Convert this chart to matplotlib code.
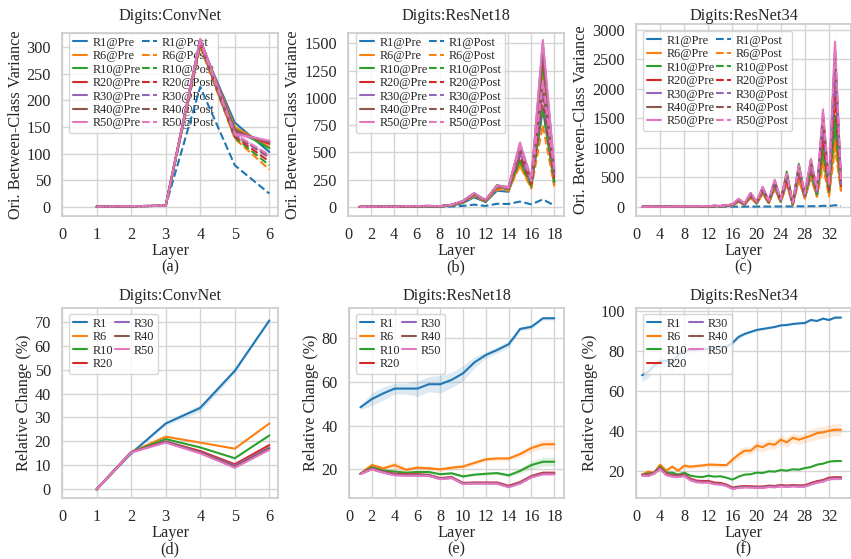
import numpy as np
import matplotlib
matplotlib.use('Agg')
import matplotlib.pyplot as plt
import seaborn as sns
from matplotlib.ticker import MultipleLocator

sns.set_theme(style='whitegrid')
plt.rcParams['font.family'] = ['Liberation Serif', 'DejaVu Serif']

runs = ['R1', 'R6', 'R10', 'R20', 'R30', 'R40', 'R50']
colors = ['#1f77b4', '#ff7f0e', '#2ca02c', '#d62728', '#9467bd', '#8c564b', '#e377c2']

# ---------- (a) ConvNet, original between-class variance ----------
conv_layers = [1, 2, 3, 4, 5, 6]
conv_pre_r1 = [0.5, 1.5, 2, 308, 158, 103]
conv_pre_r6 = [0.5, 1.5, 2, 310, 150, 112]
conv_pre_r10 = [0.5, 1.5, 2, 311, 146, 110]
conv_pre_r20 = [0.5, 1.5, 2, 312, 143, 118]
conv_pre_r30 = [0.5, 1.5, 2, 313, 141, 121]
conv_pre_r40 = [0.5, 1.5, 2, 314, 139, 122]
conv_pre_r50 = [0.5, 1.5, 2, 315, 137, 124]
conv_post_r1 = [0.5, 1.5, 2, 225, 78, 25]
conv_post_r6 = [0.5, 1.5, 2, 300, 128, 70]
conv_post_r10 = [0.5, 1.5, 2, 303, 130, 78]
conv_post_r20 = [0.5, 1.5, 2, 305, 132, 85]
conv_post_r30 = [0.5, 1.5, 2, 307, 135, 92]
conv_post_r40 = [0.5, 1.5, 2, 308, 134, 95]
conv_post_r50 = [0.5, 1.5, 2, 309, 136, 97]
conv_spread = [0.3, 0.5, 0.5, 6, 4, 3]

# ---------- (b) ResNet18, original between-class variance ----------
r18_layers = list(range(1, 19))
r18_pre_r1 = [1, 2, 3, 2, 4, 5, 6, 5, 12, 35, 90, 45, 150, 140, 420, 200, 900, 230]
r18_pre_r6 = [1, 2, 4, 3, 6, 6, 8, 6, 15, 45, 110, 55, 175, 165, 390, 180, 1250, 200]
r18_pre_r10 = [1, 2, 4, 3, 6, 7, 8, 7, 16, 48, 115, 58, 200, 180, 430, 200, 1320, 230]
r18_pre_r20 = [1, 3, 5, 3, 7, 7, 9, 7, 18, 50, 120, 60, 190, 175, 500, 230, 1400, 300]
r18_pre_r30 = [1, 3, 5, 3, 7, 8, 10, 8, 19, 52, 122, 62, 192, 178, 540, 240, 1450, 330]
r18_pre_r40 = [1, 3, 5, 3, 8, 8, 10, 8, 20, 53, 125, 63, 195, 180, 570, 250, 1490, 350]
r18_pre_r50 = [1, 3, 5, 4, 8, 8, 11, 8, 20, 55, 128, 65, 198, 182, 590, 260, 1530, 370]
r18_post_r1 = [0.5, 1, 1, 1, 2, 2, 3, 3, 5, 10, 22, 10, 30, 28, 50, 25, 70, 15]
r18_post_r6 = [1, 2, 3, 2, 5, 5, 7, 5, 13, 40, 100, 50, 160, 150, 380, 170, 750, 190]
r18_post_r10 = [1, 2, 4, 3, 6, 6, 8, 6, 15, 45, 110, 55, 180, 165, 420, 190, 900, 220]
r18_post_r20 = [1, 2, 4, 3, 6, 7, 9, 7, 17, 48, 115, 58, 185, 170, 470, 210, 1000, 260]
r18_post_r30 = [1, 3, 5, 3, 7, 7, 9, 7, 18, 50, 118, 60, 188, 172, 500, 220, 1050, 290]
r18_post_r40 = [1, 3, 5, 3, 7, 8, 10, 8, 19, 52, 120, 61, 190, 175, 530, 235, 1100, 320]
r18_post_r50 = [1, 3, 5, 3, 7, 8, 10, 8, 19, 53, 122, 62, 192, 177, 550, 240, 1150, 340]
r18_spread = [0.5, 1, 1, 1, 1, 1, 2, 1, 3, 5, 10, 6, 12, 12, 30, 20, 40, 25]

# ---------- (c) ResNet34, original between-class variance ----------
r34_layers = list(range(1, 35))
r34_pre_r1 = [1, 2, 3, 2, 4, 4, 6, 5, 8, 6, 9, 7, 12, 10, 16, 28, 90, 38, 165, 58, 230, 70, 320, 88,
              400, 38, 480, 150, 520, 190, 880, 220, 1300, 330]
r34_pre_r6 = [1, 2, 3, 2, 4, 4, 7, 5, 8, 7, 10, 8, 14, 11, 18, 30, 95, 40, 170, 60, 240, 75, 330, 90,
              420, 40, 520, 160, 560, 200, 850, 230, 1150, 300]
r34_pre_r10 = [2, 2, 3, 3, 5, 4, 8, 6, 10, 8, 12, 10, 16, 13, 22, 35, 110, 45, 195, 70, 280, 88, 380, 105,
               600, 50, 730, 180, 640, 230, 1000, 280, 1550, 340]
r34_pre_r20 = [2, 2, 4, 3, 5, 4, 8, 6, 10, 8, 12, 10, 17, 14, 24, 38, 115, 48, 200, 75, 285, 90, 385, 110,
               480, 55, 600, 190, 680, 250, 1250, 300, 2100, 360]
r34_pre_r30 = [2, 3, 4, 3, 5, 5, 9, 7, 11, 9, 13, 11, 19, 15, 26, 40, 125, 50, 215, 80, 305, 95, 410, 115,
               510, 60, 640, 200, 730, 265, 1450, 330, 2450, 380]
r34_pre_r40 = [2, 3, 4, 3, 6, 5, 9, 7, 11, 9, 14, 11, 20, 16, 28, 42, 130, 55, 225, 85, 320, 100, 430, 120,
               540, 65, 670, 215, 770, 280, 1550, 350, 2650, 400]
r34_pre_r50 = [2, 3, 4, 3, 6, 5, 10, 8, 12, 10, 15, 12, 22, 18, 30, 45, 140, 60, 240, 90, 340, 110, 460, 130,
               570, 70, 710, 230, 810, 300, 1650, 380, 2800, 420]
r34_post_r1 = [1, 1, 1, 1, 2, 2, 2, 2, 3, 3, 3, 3, 4, 4, 5, 5, 6, 5, 7, 6, 8, 7, 9, 8,
               10, 8, 12, 10, 14, 12, 20, 15, 30, 18]
r34_post_r6 = [1, 2, 3, 2, 4, 3, 6, 4, 7, 6, 9, 7, 12, 10, 16, 26, 85, 35, 150, 55, 220, 65, 300, 80,
               380, 35, 460, 140, 500, 170, 700, 180, 1000, 260]
r34_post_r10 = [1, 2, 3, 2, 4, 4, 7, 5, 9, 7, 11, 9, 15, 12, 20, 32, 100, 42, 180, 65, 260, 80, 350, 95,
                540, 45, 670, 170, 600, 210, 950, 260, 1400, 320]
r34_post_r20 = [2, 2, 4, 3, 5, 4, 8, 6, 10, 8, 12, 10, 16, 13, 23, 36, 110, 45, 190, 72, 275, 85, 370, 105,
                460, 52, 580, 185, 650, 240, 1150, 290, 1900, 350]
r34_post_r30 = [2, 3, 4, 3, 5, 5, 8, 7, 11, 9, 13, 11, 18, 15, 25, 39, 120, 48, 205, 78, 295, 92, 395, 112,
                490, 58, 620, 195, 700, 255, 1350, 315, 2300, 370]
r34_post_r40 = [2, 3, 4, 3, 6, 5, 9, 7, 11, 9, 14, 11, 19, 16, 27, 41, 128, 53, 220, 83, 315, 98, 420, 118,
                525, 62, 655, 210, 755, 270, 1500, 340, 2550, 390]
r34_post_r50 = [2, 3, 4, 3, 6, 5, 9, 8, 12, 10, 15, 12, 21, 17, 29, 44, 135, 58, 235, 88, 335, 108, 450, 128,
                560, 68, 700, 225, 800, 290, 1600, 370, 2750, 410]
r34_spread = [1, 1, 1, 1, 2, 2, 3, 3, 3, 3, 4, 4, 5, 5, 8, 10, 20, 10, 25, 12, 30, 15, 40, 15,
              50, 15, 60, 30, 70, 40, 110, 60, 120, 60]

# ---------- (d) ConvNet, relative change ----------
rc_conv_r1 = [0, 15, 27.5, 34, 49.5, 70.5]
rc_conv_r6 = [0, 15.5, 22, 19.5, 17, 27.5]
rc_conv_r10 = [0, 15.5, 21, 17.5, 13, 22.5]
rc_conv_r20 = [0, 15.5, 20, 16, 10.5, 18.5]
rc_conv_r30 = [0, 15.5, 20, 15.5, 10, 17.5]
rc_conv_r40 = [0, 15.5, 19.8, 15.3, 9.5, 17]
rc_conv_r50 = [0, 15.4, 19.5, 15, 9, 16.5]
rc_conv_spread_r1 = [0.2, 0.5, 0.8, 1.5, 1, 0.5]

# ---------- (e) ResNet18, relative change ----------
rc18_r1 = [48.4, 52.2, 54.8, 57, 57, 57, 59, 59, 61, 64, 69, 72.4, 74.7, 77.3, 84.3, 85.3, 89.2, 89.2]
rc18_r6 = [18, 22, 20.5, 22, 19.8, 20.8, 20.5, 20, 20.8, 21.3, 23, 24.6, 25, 25, 27, 29.8, 31.5, 31.5]
rc18_r10 = [18, 21, 19.5, 19, 18.5, 18.8, 18.8, 17.8, 18.2, 16.8, 17.6, 18, 18.3, 17.3, 19.3, 22, 23.5, 23.5]
rc18_r20 = [18, 20.5, 19, 18, 17.8, 17.8, 17.5, 16, 16.5, 13.8, 14, 14, 14, 12.5, 14.2, 17, 18.5, 18.5]
rc18_r30 = [18, 20.3, 18.8, 17.7, 17.5, 17.5, 17.3, 15.8, 16.3, 13.6, 13.8, 13.8, 13.7, 12.2, 13.9, 16.7, 18.1, 18.1]
rc18_r40 = [18, 20.1, 18.6, 17.5, 17.3, 17.3, 17.1, 15.6, 16.1, 13.4, 13.6, 13.6, 13.5, 12, 13.7, 16.5, 17.9, 17.9]
rc18_r50 = [17.9, 20, 18.5, 17.3, 17.1, 17.1, 17, 15.5, 16, 13.3, 13.5, 13.5, 13.4, 11.8, 13.5, 16.3, 17.7, 17.7]
rc18_spread_r1 = [1, 3, 3, 2.5, 2.5, 3.5, 3.5, 4, 3.5, 3.5, 2.5, 1.5, 1.5, 1.5, 1, 1, 0.8, 0.8]
rc18_spread_r6 = [0.5, 1.2, 1, 1.8, 1.2, 1, 1, 1, 1, 1, 1, 1, 1, 1, 1.3, 1.8, 2, 2]
rc18_spread_r10 = [0.3, 0.6, 0.6, 0.8, 0.6, 0.6, 0.6, 0.6, 0.6, 0.6, 0.6, 0.6, 0.6, 0.8, 1.2, 1.8, 2, 2]

# ---------- (f) ResNet34, relative change ----------
rc34_r1 = [67.8, 69.5, 72.5, 75, 75, 74, 78, 80, 80.5, 80.5, 81, 81, 81.5, 82, 82, 84, 87, 88.5,
           89.5, 90.5, 91, 91.5, 92, 92.8, 93, 93.5, 93.8, 94, 95.5, 95, 96.2, 95.5, 96.7, 96.7]
rc34_r6 = [18, 19.5, 19, 23, 20, 22, 20, 22.5, 22, 22.3, 22.6, 23, 23, 22.8, 22.8, 25.5, 28, 30,
           30, 32.5, 31.8, 33.5, 33, 35.5, 34.2, 36.5, 35.5, 36.5, 37.5, 38.8, 39.2, 40, 40.5, 40.5]
rc34_r10 = [18, 18.5, 19, 22, 19, 19, 18, 19, 17.5, 17, 16.8, 17.5, 17, 17.2, 16.5, 15.5, 17, 18,
            18.2, 19, 18.8, 19.7, 19.5, 20.3, 20, 20.7, 20.5, 21.3, 21.8, 23, 23.5, 24.5, 24.8, 24.8]
rc34_r20 = [18, 18, 19, 21.5, 18.5, 17.8, 17.5, 18, 16, 15, 14.8, 14.8, 14, 13.8, 13, 11.5, 12, 12.3,
            12.2, 12, 12, 12.5, 12.3, 12.8, 12.5, 12.8, 12.6, 12.7, 13.8, 14.7, 15.3, 16.5, 16.7, 16.7]
rc34_r30 = [17.8, 17.7, 18.8, 21.2, 18.2, 17.5, 17.2, 17.7, 15.6, 14.6, 14.4, 14.4, 13.6, 13.4, 12.7, 11.2, 11.7, 12,
            11.9, 11.7, 11.7, 12.2, 12, 12.5, 12.2, 12.5, 12.3, 12.4, 13.4, 14.3, 14.9, 16, 16.2, 16.2]
rc34_r40 = [17.7, 17.5, 18.6, 21, 18, 17.3, 17, 17.5, 15.4, 14.4, 14.2, 14.2, 13.4, 13.2, 12.5, 11, 11.5, 11.8,
            11.7, 11.5, 11.5, 12, 11.8, 12.3, 12, 12.3, 12.1, 12.2, 13.2, 14.1, 14.7, 15.8, 16, 16]
rc34_r50 = [17.6, 17.3, 18.5, 20.8, 17.8, 17.1, 16.8, 17.3, 15.2, 14.2, 14, 14, 13.2, 13, 12.3, 10.8, 11.3, 11.6,
            11.5, 11.3, 11.3, 11.8, 11.6, 12.1, 11.8, 12.1, 11.9, 12, 13, 13.9, 14.5, 15.6, 15.8, 15.8]
rc34_spread_r1 = [3, 3, 2, 1.5, 1.5, 5, 1.5, 1, 1, 1, 1, 1, 1, 1, 1, 1, 1, 0.8,
                  0.6, 0.6, 0.6, 0.5, 0.5, 0.5, 0.5, 0.5, 0.5, 0.5, 0.5, 0.5, 0.5, 0.5, 0.5, 0.5]
rc34_spread_r6 = [0.5, 1, 1, 1, 1, 1, 1, 1, 1, 1, 1, 1, 1, 1, 1, 1.5, 2, 2,
                  2, 2.5, 2.5, 2.5, 2.5, 2.5, 2.5, 2.5, 2.5, 2.5, 3, 3, 3, 3, 3, 3]
rc34_spread_r20 = [0.5, 1, 1, 1, 1.5, 1.5, 1, 1, 1, 1, 1, 1, 1, 1, 1, 1, 0.8, 0.8,
                   0.8, 0.8, 0.8, 0.8, 0.8, 0.8, 0.8, 0.8, 0.8, 0.8, 0.8, 0.8, 0.8, 0.8, 0.8, 0.8]

W, H = 851, 559
fig = plt.figure(figsize=(W / 100, H / 100), dpi=100)

FS = 11.7
LFS = 8.8


def box(left, top, w, h):
    return [left / W, 1 - (top + h) / H, w / W, h / H]


def style_ax(ax, title, title_y, ylabel, letter, xstep, ystep, ylim):
    pos = ax.get_position()
    cx = (pos.x0 + pos.x1) / 2
    fig.text(cx, 1 - title_y / H, title, fontsize=FS, ha='center', va='center')
    # sub-figure caption under the x label
    fig.text(cx, pos.y0 - 51 / H, letter, fontsize=FS, ha='center', va='center')
    ax.set_ylabel(ylabel, fontsize=FS, labelpad=2)
    ax.set_xlabel('Layer', fontsize=FS, labelpad=0)
    ax.set_xlim(left=0)
    ax.set_ylim(*ylim)
    ax.xaxis.set_major_locator(MultipleLocator(xstep))
    ax.yaxis.set_major_locator(MultipleLocator(ystep))
    ax.tick_params(labelsize=FS, pad=2)
    for s in ax.spines.values():
        s.set_color('#cccccc')
    ax.grid(color='#d5d5d5', lw=1)


def legend(ax, corner, under=False):
    # corner: legend top-left in figure pixels
    lg = ax.legend(ncol=2, loc='upper left', fontsize=LFS, handlelength=1.2,
                   handletextpad=0.4, columnspacing=0.15, labelspacing=0.12,
                   borderpad=0.3, borderaxespad=0, frameon=True,
                   bbox_to_anchor=(corner[0] / W, 1 - corner[1] / H),
                   bbox_transform=fig.transFigure)
    lg.get_frame().set_edgecolor('#cccccc')
    if under:
        lg.set_zorder(1.5)


def top_panel(ax, x, pre, post, spread, title, letter, xstep, ystep, ylim, corner, under=False):
    for i, r in enumerate(runs):
        ax.plot(x, pre[i], color=colors[i], lw=1.5, label=r + '@Pre')
    for i, r in enumerate(runs):
        ax.plot(x, post[i], color=colors[i], lw=1.5, ls='--', label=r + '@Post')
    for arr in (pre[5], pre[6], post[6]):
        a = np.array(arr, dtype=float)
        s = np.array(spread, dtype=float)
        ax.fill_between(x, a - s, a + s, color=colors[6], alpha=0.3, lw=0)
    style_ax(ax, title, 15.5, 'Ori. Between-Class Variance', letter, xstep, ystep, ylim)
    legend(ax, corner, under)


def bottom_panel(ax, x, vals, spreads, title, letter, xstep, ystep, ylim, corner):
    for i, r in enumerate(runs):
        ax.plot(x, vals[i], color=colors[i], lw=1.5, label=r)
    for i, s in spreads.items():
        a = np.array(vals[i], dtype=float)
        s = np.array(s, dtype=float)
        ax.fill_between(x, a - s, a + s, color=colors[i], alpha=0.15, lw=0)
    style_ax(ax, title, 296, 'Relative Change (%)', letter, xstep, ystep, ylim)
    legend(ax, corner)


axa = fig.add_axes(box(62, 33, 216, 183))
axb = fig.add_axes(box(348, 33, 216, 183))
axc = fig.add_axes(box(636, 24, 215, 192))
axd = fig.add_axes(box(62, 308, 216, 190))
axe = fig.add_axes(box(349, 308, 215, 190))
axf = fig.add_axes(box(636, 308, 215, 190))

top_panel(axa, conv_layers,
          [conv_pre_r1, conv_pre_r6, conv_pre_r10, conv_pre_r20, conv_pre_r30, conv_pre_r40, conv_pre_r50],
          [conv_post_r1, conv_post_r6, conv_post_r10, conv_post_r20, conv_post_r30, conv_post_r40, conv_post_r50],
          conv_spread, 'Digits:ConvNet', '(a)', 1, 50, (-17, 326), (69, 33), under=True)
top_panel(axb, r18_layers,
          [r18_pre_r1, r18_pre_r6, r18_pre_r10, r18_pre_r20, r18_pre_r30, r18_pre_r40, r18_pre_r50],
          [r18_post_r1, r18_post_r6, r18_post_r10, r18_post_r20, r18_post_r30, r18_post_r40, r18_post_r50],
          r18_spread, 'Digits:ResNet18', '(b)', 2, 250, (-82, 1594), (356, 33))
top_panel(axc, r34_layers,
          [r34_pre_r1, r34_pre_r6, r34_pre_r10, r34_pre_r20, r34_pre_r30, r34_pre_r40, r34_pre_r50],
          [r34_post_r1, r34_post_r6, r34_post_r10, r34_post_r20, r34_post_r30, r34_post_r40, r34_post_r50],
          r34_spread, 'Digits:ResNet34', '(c)', 4, 500, (-153, 3100), (643, 31))

bottom_panel(axd, conv_layers,
             [rc_conv_r1, rc_conv_r6, rc_conv_r10, rc_conv_r20, rc_conv_r30, rc_conv_r40, rc_conv_r50],
             {0: rc_conv_spread_r1}, 'Digits:ConvNet', '(d)', 1, 10, (-3.6, 75.7), (69, 314))
bottom_panel(axe, r18_layers,
             [rc18_r1, rc18_r6, rc18_r10, rc18_r20, rc18_r30, rc18_r40, rc18_r50],
             {0: rc18_spread_r1, 1: rc18_spread_r6, 2: rc18_spread_r10}, 'Digits:ResNet18', '(e)', 2, 20,
             (6.9, 93.9), (356, 314))
bottom_panel(axf, r34_layers,
             [rc34_r1, rc34_r6, rc34_r10, rc34_r20, rc34_r30, rc34_r40, rc34_r50],
             {0: rc34_spread_r1, 1: rc34_spread_r6, 3: rc34_spread_r20}, 'Digits:ResNet34', '(f)', 4, 20,
             (6.3, 101.5), (643, 314))

fig.savefig('out.png', dpi=100)
